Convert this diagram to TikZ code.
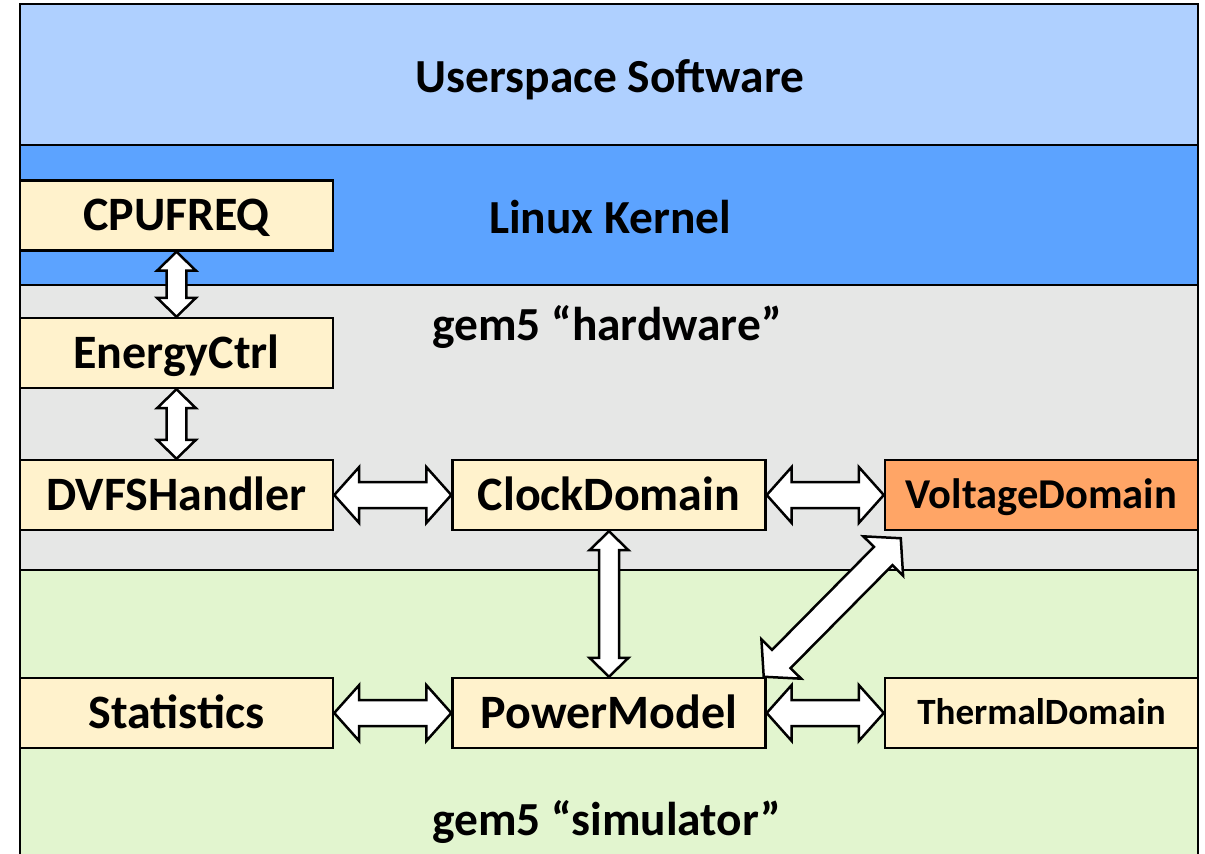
\documentclass[tikz,border=0pt]{standalone}
\usepackage{fontspec}
\setmainfont{Carlito}
\usepackage{xcolor}
\usetikzlibrary{calc,
	positioning}

\definecolor{userblue}{HTML}{AFD0FF}
\definecolor{kernelblue}{HTML}{5CA3FF}
\definecolor{hwgray}{HTML}{E6E7E6}
\definecolor{simgreen}{HTML}{E2F5CF}
\definecolor{boxyellow}{HTML}{FFF2CC}
\definecolor{voltorange}{HTML}{FFA566}

\tikzset{
	layer/.style={draw=black, line width=0.05cm},
	layerlabel/.style={anchor=base, font=\fontsize{27}{31}\selectfont\bfseries},
	module/.style={draw=black, line width=0.05cm, fill=boxyellow,
		minimum width=6.26cm, minimum height=1.4cm, inner sep=0pt,
		text height=17.3pt, text depth=0pt,
		font=\fontsize{27.3}{31}\selectfont\bfseries},
	blockline/.style={draw=black, fill=white, line width=0.05cm, line join=miter},
	% head length, half head width, half shaft width
	blockarrow/.style n args={3}{to path={
		-- ($(\tikztostart)!#1!(\tikztotarget)!#2!90:(\tikztotarget)$)
		-- ($(\tikztostart)!#1!(\tikztotarget)!#3!90:(\tikztotarget)$)
		-- ($(\tikztotarget)!#1!(\tikztostart)!#3!-90:(\tikztostart)$)
		-- ($(\tikztotarget)!#1!(\tikztostart)!#2!-90:(\tikztostart)$)
		-- (\tikztotarget)
		-- ($(\tikztotarget)!#1!(\tikztostart)!#2!90:(\tikztostart)$)
		-- ($(\tikztotarget)!#1!(\tikztostart)!#3!90:(\tikztostart)$)
		-- ($(\tikztostart)!#1!(\tikztotarget)!#3!-90:(\tikztotarget)$)
		-- ($(\tikztostart)!#1!(\tikztotarget)!#2!-90:(\tikztotarget)$)
		-- cycle}},
	big arrow/.style={blockarrow={0.5cm}{0.56cm}{0.26cm}},
	small arrow/.style={blockarrow={0.38cm}{0.39cm}{0.2cm}},
}

\begin{document}
\begin{tikzpicture}[x=0.02cm, y=-0.02cm]
	\useasboundingbox (0,0) rectangle (1205,853);
	\clip (0,0) rectangle (1205,853);

	% software stack layers
	\draw[layer, fill=userblue] (20,4) rectangle (1198,145);
	\draw[layer, fill=kernelblue] (20,145) rectangle (1198,285);
	\draw[layer, fill=hwgray] (20,285) rectangle (1198,570);
	\draw[layer, fill=simgreen] (20,570) rectangle (1198,880);

	\node[layerlabel] (userlbl) at (610,92) {Userspace Software};
	\node[layerlabel] (kernellbl) at (610,233) {Linux Kernel};
	\node[layerlabel] (hwlbl) at (607,340) {gem5 “hardware”};
	\node[layerlabel] (simlbl) at (607,835) {gem5 “simulator”};

	% modules
	\node[module] (cpufreq) at (176.5,215.5) {CPUFREQ};
	\node[module] (energy) at (176.5,353) {EnergyCtrl};
	\node[module] (dvfs) at (176.5,495) {DVFSHandler};
	\node[module] (clock) at (609,495) {ClockDomain};
	\node[module, fill=voltorange, text height=15.3pt,
		font=\fontsize{24.2}{28}\selectfont\bfseries] (volt) at (1041.5,495) {VoltageDomain};
	\node[module] (stats) at (176.5,713) {Statistics};
	\node[module] (power) at (609,713) {PowerModel};
	\node[module, text height=13.3pt,
		font=\fontsize{21.1}{25}\selectfont\bfseries] (thermal) at (1041.5,713) {ThermalDomain};

	\coordinate (diagA) at ($(power.north east)+(-3,0)$);
	\coordinate (diagB) at ($(volt.south west)+(17,7)$);

	% interfaces
	\draw[blockline] (cpufreq.south) to[small arrow] (energy.north);
	\draw[blockline] (energy.south) to[small arrow] (dvfs.north);
	\draw[blockline] (dvfs.east) to[big arrow] (clock.west);
	\draw[blockline] (clock.east) to[big arrow] (volt.west);
	\draw[blockline] (clock.south) to[small arrow] (power.north);
	\draw[blockline] (stats.east) to[big arrow] (power.west);
	\draw[blockline] (power.east) to[big arrow] (thermal.west);
	\draw[blockline] (diagA) to[big arrow] (diagB);
\end{tikzpicture}
\end{document}
